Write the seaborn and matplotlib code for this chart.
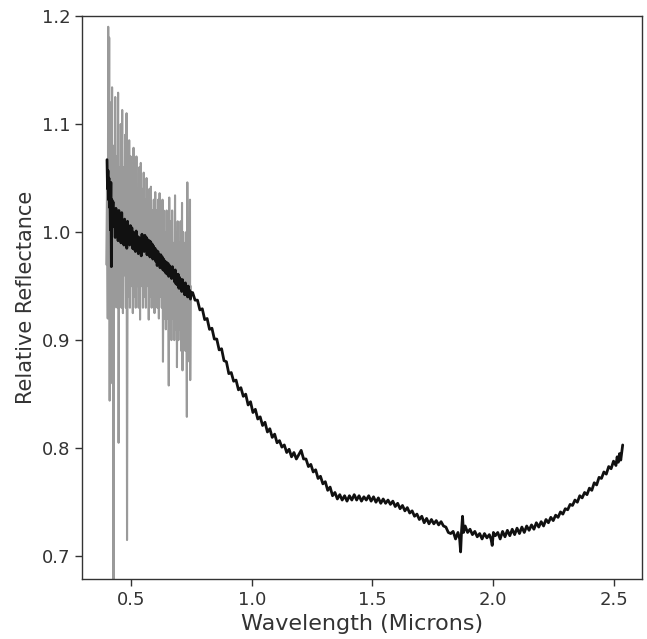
import matplotlib
matplotlib.use("Agg")
import matplotlib.pyplot as plt
import seaborn as sns
import pandas as pd

# ---- data ----
gray_wl = [0.397, 0.400, 0.403, 0.405, 0.407, 0.409, 0.411, 0.413, 0.415, 0.417,
           0.419, 0.421, 0.423, 0.425, 0.427, 0.429, 0.431, 0.434, 0.437, 0.440,
           0.443, 0.446, 0.448, 0.451, 0.454, 0.457, 0.460, 0.463, 0.466, 0.469,
           0.472, 0.475, 0.478, 0.481, 0.483, 0.486, 0.489, 0.492, 0.495, 0.498,
           0.501, 0.504, 0.507, 0.510, 0.513, 0.516, 0.519, 0.522, 0.525, 0.528,
           0.531, 0.534, 0.537, 0.540, 0.543, 0.546, 0.549, 0.552, 0.555, 0.558,
           0.561, 0.564, 0.567, 0.570, 0.573, 0.576, 0.579, 0.582, 0.585, 0.588,
           0.591, 0.594, 0.597, 0.600, 0.603, 0.606, 0.609, 0.612, 0.615, 0.618,
           0.621, 0.624, 0.627, 0.630, 0.632, 0.635, 0.638, 0.641, 0.644, 0.647,
           0.650, 0.653, 0.656, 0.658, 0.661, 0.664, 0.667, 0.670, 0.673, 0.676,
           0.679, 0.682, 0.685, 0.688, 0.690, 0.693, 0.696, 0.699, 0.702, 0.705,
           0.708, 0.711, 0.713, 0.716, 0.719, 0.722, 0.725, 0.728, 0.731, 0.733,
           0.736, 0.739, 0.742, 0.744, 0.745, 0.747]
gray_refl = [0.97, 1.04, 0.92, 1.19, 0.93, 1.18, 0.844, 1.12, 0.86, 1.10,
             0.95, 1.134, 0.90, 1.08, 0.60, 1.05, 0.93, 1.125, 0.94, 1.07,
             0.93, 1.129, 0.805, 1.06, 0.95, 1.10, 0.93, 1.113, 0.925, 1.06,
             0.96, 1.09, 0.93, 1.110, 0.715, 1.05, 0.94, 1.085, 0.93, 1.07,
             0.95, 1.06, 0.925, 1.078, 0.94, 1.05, 0.93, 1.07, 0.95, 1.04,
             0.93, 1.06, 0.919, 1.064, 0.95, 1.04, 0.93, 1.055, 0.94, 1.03,
             0.93, 1.05, 0.95, 1.03, 0.919, 1.04, 0.94, 1.042, 0.93, 1.02,
             0.94, 1.03, 0.925, 1.037, 0.94, 1.02, 0.93, 1.03, 0.92, 1.036,
             0.94, 1.01, 0.93, 1.03, 0.880, 1.02, 0.92, 1.00, 0.91, 1.02,
             0.92, 1.00, 0.858, 1.032, 0.91, 1.01, 0.90, 1.02, 0.92, 0.99,
             0.90, 1.034, 0.91, 1.00, 0.875, 1.01, 0.90, 0.99, 0.91, 1.01,
             0.89, 1.027, 0.872, 1.00, 0.90, 0.99, 0.89, 1.00, 0.829, 1.046,
             0.90, 1.00, 0.88, 1.03, 0.863, 0.95]

black_wl = [0.400, 0.402, 0.404, 0.406, 0.408, 0.410, 0.412, 0.414, 0.416, 0.418,
            0.420, 0.422, 0.425, 0.428, 0.431, 0.434, 0.437, 0.440, 0.443, 0.446,
            0.449, 0.452, 0.455, 0.458, 0.461, 0.464, 0.467, 0.470, 0.473, 0.476,
            0.479, 0.482, 0.485, 0.488, 0.491, 0.494, 0.497, 0.500, 0.503, 0.506,
            0.509, 0.512, 0.515, 0.518, 0.521, 0.524, 0.527, 0.530, 0.533, 0.536,
            0.539, 0.542, 0.545, 0.548, 0.551, 0.554, 0.557, 0.560, 0.563, 0.566,
            0.569, 0.572, 0.575, 0.578, 0.581, 0.584, 0.587, 0.590, 0.593, 0.596,
            0.599, 0.602, 0.605, 0.608, 0.611, 0.614, 0.617, 0.620, 0.623, 0.626,
            0.629, 0.632, 0.635, 0.638, 0.641, 0.644, 0.647, 0.650, 0.653, 0.656,
            0.659, 0.662, 0.665, 0.668, 0.671, 0.674, 0.677, 0.680, 0.683, 0.686,
            0.689, 0.692, 0.695, 0.698, 0.701, 0.704, 0.707, 0.710, 0.713, 0.716,
            0.719, 0.722, 0.725, 0.728, 0.731, 0.734, 0.737, 0.740, 0.743, 0.746,
            0.749, 0.755, 0.765, 0.775, 0.785, 0.795, 0.805, 0.815, 0.825, 0.835,
            0.845, 0.855, 0.865, 0.875, 0.885, 0.895, 0.905, 0.915, 0.925, 0.935,
            0.945, 0.955, 0.965, 0.975, 0.985, 0.995, 1.005, 1.015, 1.025, 1.035,
            1.045, 1.055, 1.065, 1.075, 1.085, 1.095, 1.105, 1.115, 1.125, 1.135,
            1.145, 1.155, 1.165, 1.175, 1.185, 1.195, 1.205, 1.215, 1.225, 1.235,
            1.245, 1.255, 1.265, 1.275, 1.285, 1.295, 1.305, 1.315, 1.325, 1.335,
            1.345, 1.355, 1.365, 1.375, 1.385, 1.395, 1.405, 1.415, 1.425, 1.435,
            1.445, 1.455, 1.465, 1.475, 1.485, 1.495, 1.505, 1.515, 1.525, 1.535,
            1.545, 1.555, 1.565, 1.575, 1.585, 1.595, 1.605, 1.615, 1.625, 1.635,
            1.645, 1.655, 1.665, 1.675, 1.685, 1.695, 1.705, 1.715, 1.725, 1.735,
            1.745, 1.755, 1.765, 1.775, 1.785, 1.795, 1.805, 1.815, 1.825, 1.835,
            1.845, 1.855, 1.862, 1.866, 1.870, 1.874, 1.878, 1.885, 1.895, 1.905,
            1.915, 1.925, 1.935, 1.945, 1.955, 1.965, 1.975, 1.985, 1.992, 1.997,
            2.002, 2.010, 2.020, 2.030, 2.040, 2.050, 2.060, 2.070, 2.080, 2.090,
            2.100, 2.110, 2.120, 2.130, 2.140, 2.150, 2.160, 2.170, 2.180, 2.190,
            2.200, 2.210, 2.220, 2.230, 2.240, 2.250, 2.260, 2.270, 2.280, 2.290,
            2.300, 2.310, 2.320, 2.330, 2.340, 2.350, 2.360, 2.370, 2.380, 2.390,
            2.400, 2.410, 2.420, 2.430, 2.440, 2.450, 2.460, 2.470, 2.480, 2.490,
            2.500, 2.510, 2.515, 2.520, 2.525, 2.530, 2.535, 2.538]
black_refl = [1.067, 1.040, 1.057, 1.030, 1.050, 1.023, 1.042, 1.002, 1.046, 0.968,
              1.030, 1.011, 1.028, 1.005, 1.018, 0.995, 1.022, 1.000, 1.015, 0.992,
              1.020, 0.998, 1.012, 0.990, 1.018, 0.996, 1.010, 0.988, 1.012, 0.995,
              1.008, 0.985, 1.010, 0.992, 1.004, 0.988, 1.006, 0.990, 1.004, 0.985,
              1.000, 0.984, 0.998, 0.982, 1.001, 0.985, 0.996, 0.980, 0.995, 0.982,
              0.993, 0.978, 0.998, 0.986, 0.996, 0.982, 0.997, 0.985, 0.995, 0.979,
              0.993, 0.982, 0.992, 0.977, 0.991, 0.979, 0.989, 0.975, 0.987, 0.977,
              0.985, 0.973, 0.983, 0.969, 0.982, 0.971, 0.979, 0.967, 0.979, 0.969,
              0.977, 0.965, 0.975, 0.964, 0.973, 0.962, 0.972, 0.961, 0.971, 0.959,
              0.969, 0.960, 0.967, 0.957, 0.968, 0.958, 0.964, 0.954, 0.965, 0.952,
              0.961, 0.951, 0.961, 0.948, 0.958, 0.948, 0.956, 0.945, 0.956, 0.946,
              0.952, 0.942, 0.953, 0.942, 0.950, 0.940, 0.950, 0.940, 0.946, 0.938,
              0.944, 0.944, 0.937, 0.937, 0.928, 0.929, 0.919, 0.920, 0.910, 0.911,
              0.901, 0.901, 0.891, 0.892, 0.881, 0.880, 0.869, 0.870, 0.862, 0.863,
              0.854, 0.856, 0.848, 0.850, 0.840, 0.843, 0.833, 0.836, 0.827, 0.829,
              0.821, 0.824, 0.815, 0.818, 0.810, 0.813, 0.805, 0.807, 0.801, 0.803,
              0.796, 0.799, 0.792, 0.796, 0.790, 0.794, 0.798, 0.790, 0.790, 0.783,
              0.785, 0.778, 0.780, 0.772, 0.774, 0.767, 0.769, 0.761, 0.764, 0.756,
              0.759, 0.753, 0.757, 0.752, 0.756, 0.751, 0.756, 0.752, 0.757, 0.752,
              0.756, 0.751, 0.755, 0.752, 0.756, 0.751, 0.755, 0.750, 0.754, 0.749,
              0.753, 0.749, 0.752, 0.748, 0.751, 0.746, 0.749, 0.744, 0.747, 0.742,
              0.745, 0.740, 0.742, 0.737, 0.739, 0.734, 0.737, 0.731, 0.735, 0.730,
              0.734, 0.730, 0.733, 0.729, 0.732, 0.728, 0.727, 0.722, 0.721, 0.723,
              0.716, 0.722, 0.716, 0.704, 0.724, 0.737, 0.722, 0.728, 0.722, 0.725,
              0.720, 0.723, 0.718, 0.721, 0.716, 0.721, 0.717, 0.720, 0.716, 0.710,
              0.722, 0.719, 0.722, 0.716, 0.723, 0.718, 0.724, 0.719, 0.725, 0.720,
              0.726, 0.721, 0.727, 0.722, 0.728, 0.724, 0.729, 0.725, 0.731, 0.727,
              0.732, 0.728, 0.734, 0.731, 0.736, 0.733, 0.738, 0.736, 0.741, 0.739,
              0.744, 0.743, 0.748, 0.747, 0.752, 0.750, 0.756, 0.754, 0.759, 0.757,
              0.763, 0.761, 0.768, 0.766, 0.773, 0.772, 0.778, 0.776, 0.783, 0.781,
              0.788, 0.784, 0.792, 0.787, 0.795, 0.789, 0.798, 0.803]

x_ticks = [0.5, 1.0, 1.5, 2.0, 2.5]
y_ticks = [0.7, 0.8, 0.9, 1.0, 1.1, 1.2]
x_label = "Wavelength (Microns)"
y_label = "Relative Reflectance"

# ---- plot ----
sns.set_theme(style="ticks")
plt.rcParams["font.family"] = ["DejaVu Sans"]
plt.rcParams["axes.edgecolor"] = "#333333"
plt.rcParams["xtick.color"] = "#333333"
plt.rcParams["ytick.color"] = "#333333"

fig = plt.figure(figsize=(6.47, 6.39), dpi=100)
ax = fig.add_axes([0.127, 0.094, 0.866, 0.881])

gray_df = pd.DataFrame({"wl": gray_wl, "refl": gray_refl})
black_df = pd.DataFrame({"wl": black_wl, "refl": black_refl})

sns.lineplot(data=gray_df, x="wl", y="refl", color="#9a9a9a", lw=1.5,
             estimator=None, ax=ax)
sns.lineplot(data=black_df, x="wl", y="refl", color="#111111", lw=2.0,
             estimator=None, ax=ax)

ax.set_xlim(0.297, 2.62)
ax.set_ylim(0.679, 1.2)
ax.set_xticks(x_ticks)
ax.set_yticks(y_ticks)
ax.tick_params(labelsize=13, length=5, width=1, labelcolor="#333333")
ax.set_xlabel(x_label, fontsize=16, color="#333333")
ax.set_ylabel(y_label, fontsize=15, color="#333333")
for s in ax.spines.values():
    s.set_linewidth(1.0)

fig.savefig("out.png", dpi=100)
